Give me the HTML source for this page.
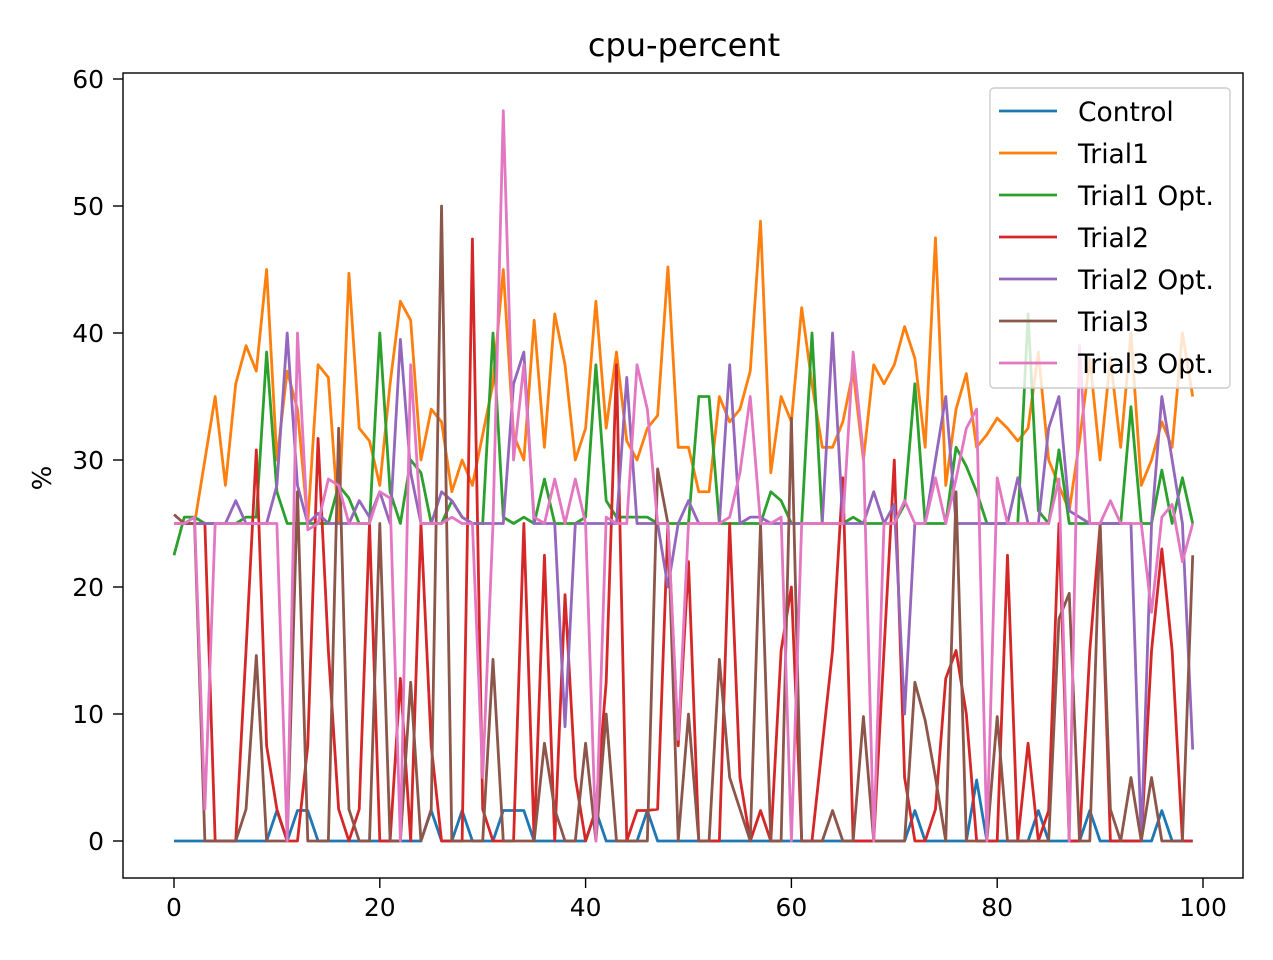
<!DOCTYPE html>
<html><head><meta charset="utf-8"><style>
body{margin:0;background:#fff;}
svg text{font-family:"DejaVu Sans","Liberation Sans",sans-serif;fill:#000;}
</style></head><body>
<svg id="chart" width="1273" height="955" xmlns="http://www.w3.org/2000/svg">
<rect width="1273" height="955" fill="#fff"/>
<text x="684" y="56" font-size="32" text-anchor="middle">cpu-percent</text>
<text transform="translate(51,478) rotate(-90)" font-size="26" text-anchor="middle">%</text>
<g id="plot"></g>
<rect x="123" y="73" width="1120" height="805" fill="none" stroke="#000" stroke-width="1.4"/>
<g id="axes"></g>
<g id="legend"></g>
</svg>
<script>
const xTicks=[0,20,40,60,80,100];
const yTicks=[0,10,20,30,40,50,60];
const seriesNames=["Control","Trial1","Trial1 Opt.","Trial2","Trial2 Opt.","Trial3","Trial3 Opt."];
const colors=["#1f77b4","#ff7f0e","#2ca02c","#d62728","#9467bd","#8c564b","#e377c2"];
const control=[0,0,0,0,0,0,0,0,0,0,2.4,0,2.4,2.4,0,0,0,0,0,0,0,0,0,0,0,2.4,0,0,2.4,0,0,0,2.4,2.4,2.4,0,0,0,0,0,0,2.4,0,0,0,0,2.4,0,0,0,0,0,0,0,0,0,0,0,0,0,0,0,0,0,0,0,0,0,0,0,0,0,2.4,0,0,0,0,0,4.8,0,0,0,0,0,2.4,0,0,0,0,2.4,0,0,0,0,0,0,2.4,0,0,0];
const trial1=[25,25,25,30,35,28,36,39,37,45,30,37,34,25,37.5,36.5,25,44.7,32.5,31.5,28,36,42.5,41,30,34,33,27.5,30,28,32,36,45,32,30,41,31,41.5,37.5,30,32.5,42.5,32.5,38.5,31.5,30,32.5,33.5,45.2,31,31,27.5,27.5,35,33,34,37,48.8,29,35,33,42,36,31,31,33,37,30,37.5,36,37.5,40.5,38,31,47.5,28,34,36.8,31,32,33.3,32.5,31.5,32.5,38.5,30,28,26,31.5,38,30,38,31,40,28,30,33,31,40,35];
const trial1Opt=[22.5,25.5,25.5,25,25,25,25,25.5,25.5,38.5,27.5,25,25,25,25,25,28,27,25,25,40,27.5,25,30,29,25,25,26.8,25.5,25,25,40,25.5,25,25.5,25,28.5,25,25,25,25.5,37.5,26.8,25.5,25.5,25.5,25.5,25,25,25,25,35,35,25,25,25,25,25,27.5,26.8,25,25,40,25,25,25,25.5,25,25,25,25,26.5,36,25,25,25,31,29.5,27.5,25,25,25,25,41.5,26,25,30.8,25,25,25,25,25,25,34.2,25,25,29.2,25,28.6,25];
const trial2=[25,25,25,25,0,0,0,15,30.8,7.5,2.5,0,0,7.5,31.7,15,2.5,0,2.5,25,0,0,12.8,0,25,7.5,0,0,0,47.4,2.5,0,0,0,25,0,22.5,0,19.4,5,0,2.5,12.5,37.5,0,2.4,2.4,2.5,25,7.5,22,0,0,0,25,5,0,2.4,0,15,20,0,0,7.5,15,28.6,0,0,0,15,30,5,0,0,2.5,12.8,15,10,0,0,0,22.5,0,7.7,0,2.4,25,0,0,15,24.9,0,0,0,0,15,23,15,0,0];
const trial2Opt=[25,25,25,25,25,25,26.8,25,25,25,28,40,28,25,25.8,25,25,25,26.8,25.5,27.5,25,39.5,29,25,25,27.5,26.8,25.5,25,25,25,25,36,38.5,25,25,25,9,25,25,25,25,25,36.5,25,25,25,20,25,26.8,25,25,25,37.5,25,25.5,25.5,25,25,25,25,25,25,40,25,25,25,27.5,25,26.5,10,25,25,30,35,25,25,25,25,25,25,28.6,25,25,32.5,35,26,25.5,25,25,25,25,25,0,25,35,30,25,7.2];
const trial3=[25.7,25,25,0,0,0,0,2.5,14.6,0,0,0,27.5,0,0,0,32.5,2.5,0,0,25,0,0,12.5,0,2.5,50,0,0,0,0,14.3,0,0,0,0,7.7,2.5,0,0,7.7,0,10,0,0,0,0,29.3,25,0,10,0,0,14.3,5,2.5,0,25,0,0,33.3,0,0,0,2.4,0,0,9.8,0,0,0,0,12.5,9.5,5,0,27.5,0,0,0,9.8,0,0,0,0,0,17.5,19.5,0,0,25,2.5,0,5,0,5,0,0,0,22.5];
const trial3Opt=[25,25,25.5,2.5,25,25,25,25,25,25,25,0,40,24.5,25,28.5,28,25,25,25,27.5,27,0,37.5,25,25,25,25.5,25,25,5,25,57.5,30,37.5,25.5,25,28.5,25,28.5,25,0,25.5,25,25,37.5,34,25,25,8,25,25,25,25,25.5,29,35,25,25,25.5,0,25,25,25,25,25,38.5,30.5,0,25,25,26.8,25,25,28.6,25,28.5,32.5,34,0,28.6,25,25,25,25,25,28.5,0,39,25,25,26.8,25,25,25,18,25.5,26.5,22,25];
const allSeries=[control,trial1,trial1Opt,trial2,trial2Opt,trial3,trial3Opt];
const NS="http://www.w3.org/2000/svg";
function xs(v){return 174+(1203-174)*v/100;}
function ys(v){return 841-(841-79)*v/60;}
const plot=document.getElementById('plot');
const axes=document.getElementById('axes');
const legend=document.getElementById('legend');
allSeries.forEach((s,k)=>{
  const p=document.createElementNS(NS,'polyline');
  p.setAttribute('points',s.map((v,i)=>xs(i)+','+ys(v)).join(' '));
  p.setAttribute('fill','none');p.setAttribute('stroke',colors[k]);
  p.setAttribute('stroke-width','2.8');p.setAttribute('stroke-linejoin','round');
  
  
  plot.appendChild(p);
});
xTicks.forEach(t=>{
  const l=document.createElementNS(NS,'line');
  l.setAttribute('x1',xs(t));l.setAttribute('x2',xs(t));l.setAttribute('y1',878);l.setAttribute('y2',888);l.setAttribute('stroke','#000');l.setAttribute('stroke-width','1.4');
  
  
  axes.appendChild(l);
  const tx=document.createElementNS(NS,'text');
  tx.setAttribute('x',xs(t));tx.setAttribute('y',916);tx.setAttribute('font-size','25');tx.setAttribute('text-anchor','middle');
  tx.textContent=t;
  
  
  axes.appendChild(tx);
});
yTicks.forEach(t=>{
  const l=document.createElementNS(NS,'line');
  l.setAttribute('x1',113);l.setAttribute('x2',123);l.setAttribute('y1',ys(t));l.setAttribute('y2',ys(t));l.setAttribute('stroke','#000');l.setAttribute('stroke-width','1.4');
  
  
  axes.appendChild(l);
  const tx=document.createElementNS(NS,'text');
  tx.setAttribute('x',104);tx.setAttribute('y',ys(t)+9);tx.setAttribute('font-size','25');tx.setAttribute('text-anchor','end');
  tx.textContent=t;
  
  
  axes.appendChild(tx);
});
const box=document.createElementNS(NS,'rect');
box.setAttribute('x',990);box.setAttribute('y',88);box.setAttribute('width',240);box.setAttribute('height',300);box.setAttribute('rx',4);
box.setAttribute('fill','rgba(255,255,255,0.8)');box.setAttribute('stroke','#ccc');box.setAttribute('stroke-width','1.4');


legend.appendChild(box);
seriesNames.forEach((n,k)=>{
  const y=111+k*42;
  const l=document.createElementNS(NS,'line');
  l.setAttribute('x1',999);l.setAttribute('x2',1057);l.setAttribute('y1',y);l.setAttribute('y2',y);
  l.setAttribute('stroke',colors[k]);l.setAttribute('stroke-width','2.8');
  
  
  legend.appendChild(l);
  const tx=document.createElementNS(NS,'text');
  tx.setAttribute('x',1078);tx.setAttribute('y',y+10);tx.setAttribute('font-size','26.5');
  tx.textContent=n;
  
  
  legend.appendChild(tx);
});
</script>
</body></html>
